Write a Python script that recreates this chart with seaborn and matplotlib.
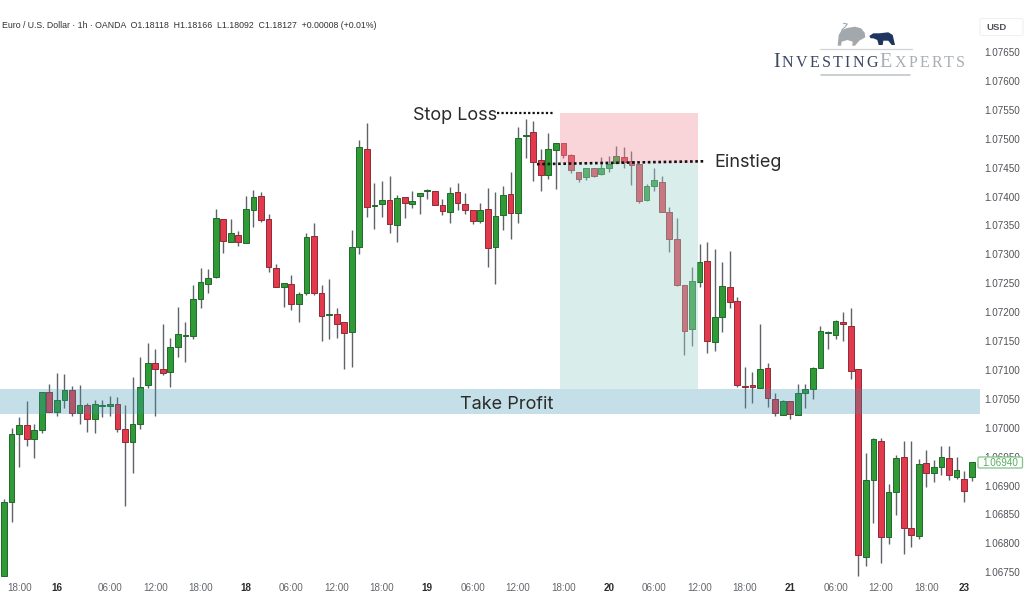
import numpy as np
import pandas as pd
import matplotlib
matplotlib.use("Agg")
import matplotlib.pyplot as plt
from matplotlib.patches import Polygon, FancyBboxPatch
import seaborn as sns

# EUR/USD hourly candles
opens = [1.06743,1.06871,1.06989,1.07004,1.06980,1.06996,1.07062,1.07027,1.07048,1.07065,1.07025,1.07039,1.07015,1.07037,1.07037,1.07041,1.06997,1.06975,1.07006,1.07074,1.07112,1.07101,1.07096,1.07139,1.07158,1.07158,1.07222,1.07248,1.07261,1.07361,1.07321,1.07333,1.07319,1.07377,1.07401,1.07361,1.07276,1.07243,1.07248,1.07214,1.07233,1.07332,1.07233,1.07195,1.07197,1.07183,1.07165,1.07312,1.07482,1.07383,1.07387,1.07394,1.07351,1.07399,1.07387,1.07401,1.07409,1.07409,1.07385,1.07373,1.07408,1.07387,1.07377,1.07357,1.07378,1.07312,1.07368,1.07404,1.07371,1.07505,1.07512,1.07463,1.07437,1.07480,1.07492,1.07472,1.07442,1.07434,1.07449,1.07439,1.07449,1.07458,1.07468,1.07461,1.07456,1.07394,1.07418,1.07425,1.07373,1.07326,1.07247,1.07171,1.07252,1.07288,1.07148,1.07191,1.07243,1.07219,1.07072,1.07074,1.07068,1.07103,1.07049,1.07022,1.07046,1.07022,1.07060,1.07067,1.07103,1.07164,1.07160,1.07183,1.07176,1.07101,1.06776,1.06909,1.06977,1.06811,1.06888,1.06949,1.06826,1.06812,1.06939,1.06921,1.06932,1.06947,1.06914,1.06911,1.06914]
highs = [1.06876,1.06999,1.07018,1.07046,1.07006,1.07062,1.07075,1.07094,1.07093,1.07072,1.07074,1.07042,1.07048,1.07048,1.07055,1.07053,1.07039,1.07087,1.07122,1.07146,1.07136,1.07179,1.07155,1.07209,1.07183,1.07247,1.07276,1.07274,1.07378,1.07361,1.07361,1.07340,1.07401,1.07411,1.07408,1.07370,1.07283,1.07250,1.07264,1.07235,1.07337,1.07354,1.07247,1.07257,1.07207,1.07183,1.07342,1.07498,1.07527,1.07423,1.07427,1.07435,1.07402,1.07399,1.07409,1.07406,1.07413,1.07409,1.07396,1.07416,1.07423,1.07406,1.07377,1.07389,1.07415,1.07408,1.07418,1.07442,1.07520,1.07534,1.07531,1.07482,1.07510,1.07492,1.07492,1.07473,1.07442,1.07449,1.07449,1.07468,1.07470,1.07487,1.07486,1.07479,1.07456,1.07422,1.07449,1.07435,1.07382,1.07363,1.07247,1.07278,1.07318,1.07321,1.07309,1.07287,1.07306,1.07226,1.07105,1.07096,1.07179,1.07112,1.07060,1.07048,1.07046,1.07075,1.07075,1.07105,1.07176,1.07167,1.07186,1.07200,1.07207,1.07101,1.06956,1.06982,1.06982,1.06902,1.06952,1.06977,1.06977,1.06946,1.06961,1.06944,1.06968,1.06968,1.06949,1.06925,1.06940]
lows = [1.06743,1.06837,1.06932,1.06968,1.06947,1.06991,1.07027,1.07020,1.07034,1.07020,1.07006,1.06992,1.06991,1.07018,1.07020,1.06992,1.06864,1.06921,1.06997,1.07068,1.07020,1.07091,1.07070,1.07122,1.07113,1.07153,1.07207,1.07233,1.07259,1.07302,1.07321,1.07314,1.07319,1.07347,1.07356,1.07269,1.07243,1.07209,1.07203,1.07183,1.07229,1.07229,1.07150,1.07153,1.07155,1.07101,1.07105,1.07300,1.07364,1.07344,1.07364,1.07337,1.07321,1.07363,1.07380,1.07370,1.07396,1.07385,1.07368,1.07354,1.07377,1.07370,1.07352,1.07354,1.07278,1.07248,1.07342,1.07326,1.07354,1.07467,1.07427,1.07409,1.07430,1.07413,1.07467,1.07441,1.07425,1.07428,1.07434,1.07437,1.07442,1.07458,1.07449,1.07420,1.07389,1.07392,1.07409,1.07373,1.07304,1.07245,1.07126,1.07141,1.07243,1.07129,1.07133,1.07165,1.07207,1.07070,1.07034,1.07042,1.07068,1.07036,1.07020,1.07022,1.07015,1.07022,1.07034,1.07049,1.07103,1.07136,1.07153,1.07150,1.07084,1.06743,1.06760,1.06835,1.06766,1.06798,1.06849,1.06781,1.06793,1.06807,1.06897,1.06906,1.06918,1.06909,1.06911,1.06871,1.06907]
closes = [1.06871,1.06989,1.07004,1.06980,1.06996,1.07062,1.07027,1.07048,1.07065,1.07025,1.07039,1.07015,1.07041,1.07039,1.07041,1.06997,1.06975,1.07006,1.07070,1.07112,1.07101,1.07094,1.07139,1.07162,1.07160,1.07222,1.07252,1.07259,1.07363,1.07323,1.07337,1.07321,1.07378,1.07399,1.07359,1.07278,1.07243,1.07250,1.07214,1.07231,1.07330,1.07233,1.07193,1.07197,1.07179,1.07164,1.07312,1.07486,1.07382,1.07385,1.07394,1.07352,1.07397,1.07389,1.07392,1.07406,1.07411,1.07385,1.07375,1.07406,1.07389,1.07377,1.07357,1.07377,1.07311,1.07366,1.07402,1.07371,1.07501,1.07506,1.07460,1.07437,1.07482,1.07492,1.07472,1.07446,1.07430,1.07449,1.07435,1.07449,1.07456,1.07470,1.07460,1.07454,1.07392,1.07418,1.07428,1.07373,1.07326,1.07247,1.07167,1.07254,1.07287,1.07150,1.07191,1.07245,1.07217,1.07074,1.07070,1.07070,1.07101,1.07051,1.07025,1.07046,1.07023,1.07060,1.07067,1.07103,1.07167,1.07165,1.07184,1.07179,1.07098,1.06779,1.06909,1.06980,1.06811,1.06888,1.06947,1.06826,1.06814,1.06937,1.06921,1.06932,1.06949,1.06918,1.06927,1.06890,1.06940]

x_tick_pos = [2, 7, 14, 20, 26, 32, 38, 44, 50, 56, 62, 68, 74, 80, 86, 92, 98, 104, 110, 116, 122, 127]
x_tick_labels = ["18:00", "16", "06:00", "12:00", "18:00", "18", "06:00", "12:00", "18:00", "19",
                 "06:00", "12:00", "18:00", "20", "06:00", "12:00", "18:00", "21", "06:00", "12:00",
                 "18:00", "23"]
price_ticks = [1.07650, 1.07600, 1.07550, 1.07500, 1.07450, 1.07400, 1.07350, 1.07300, 1.07250, 1.07200,
               1.07150, 1.07100, 1.07050, 1.07000, 1.06950, 1.06900, 1.06850, 1.06800, 1.06750]

last_price = 1.06940
band_low, band_high = 1.07023, 1.07067
stop_price = 1.07544
entry_price = 1.07458
target_price = 1.07067
zone_start, zone_end = 73.5, 91.8

GREEN, GREEN_EDGE = "#2f9a36", "#1f6a2a"
RED, RED_EDGE = "#e23a4c", "#8e2b38"
WICK = "#5f6266"
UI_FONT = ["Liberation Sans", "DejaVu Sans"]
NOTE_FONT = ["Inter", "DejaVu Sans"]

sns.set_theme(style="white")
plt.rcParams["font.family"] = UI_FONT

candles = pd.DataFrame({"hour": np.arange(len(opens)), "open": opens, "high": highs, "low": lows, "close": closes})
candles["base"] = candles[["open", "close"]].min(axis=1)
candles["size"] = (candles["close"] - candles["open"]).abs()
rising = candles[candles["close"] >= candles["open"]]
falling = candles[candles["close"] < candles["open"]]

W, H = 1024, 614
fig = plt.figure(figsize=(W / 100, H / 100), dpi=100, facecolor="white")
ax = fig.add_axes([0, 1 - 578 / H, 980 / W, 578 / H])

# Wicks sit behind the candle bodies
ax.vlines(candles["hour"], candles["low"], candles["high"], color=WICK, lw=1.0, zorder=2)

for subset, face, edge in ((rising, GREEN, GREEN_EDGE), (falling, RED, RED_EDGE)):
    sns.barplot(data=subset, x="hour", y="size", native_scale=True, errorbar=None, ax=ax,
                bottom=subset["base"].to_numpy(), width=0.76, color=face, saturation=1,
                edgecolor=edge, linewidth=0.7, zorder=3)

ax.set_xlim(-0.529, 129.1)
ax.set_ylim(1.06740, 1.07740)
ax.set_xlabel("")
ax.set_ylabel("")
for spine in ax.spines.values():
    spine.set_visible(False)

# Trade zones and take-profit band wash over the candles
ax.axhspan(band_low, band_high, color="#3e98b2", alpha=0.30, lw=0, zorder=5)
ax.fill_between([zone_start, zone_end], entry_price, stop_price, color="#f096a0", alpha=0.40, lw=0, zorder=5)
ax.fill_between([zone_start, zone_end], target_price, entry_price, color="#a2d4cf", alpha=0.40, lw=0, zorder=5)

# Trade annotations
ax.plot([65.2, 72.7], [stop_price, stop_price], color="#111111", lw=1.6, ls=(0, (1, 1)), zorder=6)
ax.plot([70.5, 92.7], [1.07456, 1.07461], color="#111111", lw=1.9, ls=(0, (1, 1)), zorder=6)
note = dict(family=NOTE_FONT, fontsize=13, color="#2b2b2b", va="center", zorder=7)
ax.text(65.2, 1.07541, "Stop Loss", ha="right", **note)
ax.text(94.0, 1.07459, "Einstieg", ha="left", **note)
ax.text(60.3, 1.07040, "Take Profit", ha="left", **note)

# Price and time scales
ax.yaxis.tick_right()
ax.set_yticks(price_ticks)
ax.set_yticklabels([f"{p:.5f}" for p in price_ticks])
ax.tick_params(axis="y", length=0, pad=3, labelsize=7.1, labelcolor="#4f5257")
ax.set_xticks(x_tick_pos)
ax.set_xticklabels(x_tick_labels)
ax.tick_params(axis="x", length=0, pad=3.5, labelsize=7.1, labelcolor="#62656a")
for lab in ax.get_xticklabels():
    if ":" not in lab.get_text():
        lab.set_fontweight("bold")
        lab.set_color("#2a2c30")

# Overlay in figure pixels for the header, price tag and logo
ui = fig.add_axes([0, 0, 1, 1], facecolor="none")
ui.set_xlim(0, W)
ui.set_ylim(H, 0)
ui.axis("off")

ui.text(2, 26, "Euro / U.S. Dollar · 1h · OANDA  O1.18118  H1.18166  L1.18092  C1.18127  +0.00008 (+0.01%)",
        fontsize=6.35, color="#2f3236", va="center", ha="left")

ui.add_patch(FancyBboxPatch((980, 18.5), 43, 17, boxstyle="round,pad=0,rounding_size=2",
                            fc="white", ec="#f0f0f0", lw=0.8))
ui.text(986, 27, "USD", fontsize=6.8, color="#4f5257", ha="left", va="center", fontweight="bold")

ui.add_patch(FancyBboxPatch((978, 457), 44.5, 11, boxstyle="round,pad=0,rounding_size=1.5",
                            fc="white", ec="#7fc384", lw=0.9))
ui.text(1000.5, 462.8, f"{last_price:.5f}", fontsize=7.1, color="#59ab60", ha="center", va="center")

# Logo: bull, bear and small-caps wordmark
bull = [(837.7, 45.7), (838.7, 35), (841.7, 30), (847.3, 28), (855, 26.7), (861, 28.3), (864.7, 32.7), (865.3, 37.3),
        (861.7, 39.3), (859.3, 40.7), (855, 45.7), (852.3, 45.7), (852.7, 41.7), (847.3, 40), (841.7, 41.7), (841, 45.7)]
bear = [(869.3, 36), (873.3, 33.3), (879.3, 33.3), (888.3, 32.3), (892.7, 35), (895, 45), (891.7, 45), (888.3, 40.7),
        (883.3, 40.7), (882.7, 45), (878.7, 45), (877.3, 40), (873.3, 38.3), (870.7, 38.3)]
ui.add_patch(Polygon(bull, closed=True, fc="#a3a8ad", ec="none"))
ui.add_patch(Polygon(bear, closed=True, fc="#1e3560", ec="none"))
ui.plot([841.7, 845, 847.3, 843.5], [30, 27, 24, 23.3], color="#a3a8ad", lw=0.8)
ui.plot([820, 912], [49, 49], color="#d2d4d7", lw=0.9)
ui.plot([821, 910], [75, 75], color="#c4c7ca", lw=1.2)

fig.canvas.draw()
renderer = fig.canvas.get_renderer()
cursor = 773.0
word = [("I", 14.5, "#3b4763"), ("N", 11.5, "#3b4763"), ("V", 11.5, "#3b4763"), ("E", 11.5, "#3b4763"), ("S", 11.5, "#3b4763"),
        ("T", 11.5, "#3b4763"), ("I", 11.5, "#3b4763"), ("N", 11.5, "#3b4763"), ("G", 11.5, "#3b4763"),
        ("E", 14.5, "#a9aeb4"), ("X", 11.5, "#a9aeb4"), ("P", 11.5, "#a9aeb4"), ("E", 11.5, "#a9aeb4"),
        ("R", 11.5, "#a9aeb4"), ("T", 11.5, "#a9aeb4"), ("S", 11.5, "#a9aeb4")]
for ch, size, col in word:
    t = ui.text(cursor, 67, ch, fontsize=size, color=col, family=["Liberation Serif"], ha="left", va="baseline")
    cursor += t.get_window_extent(renderer).width + 2.25

fig.savefig("out.png", dpi=100, facecolor="white")
